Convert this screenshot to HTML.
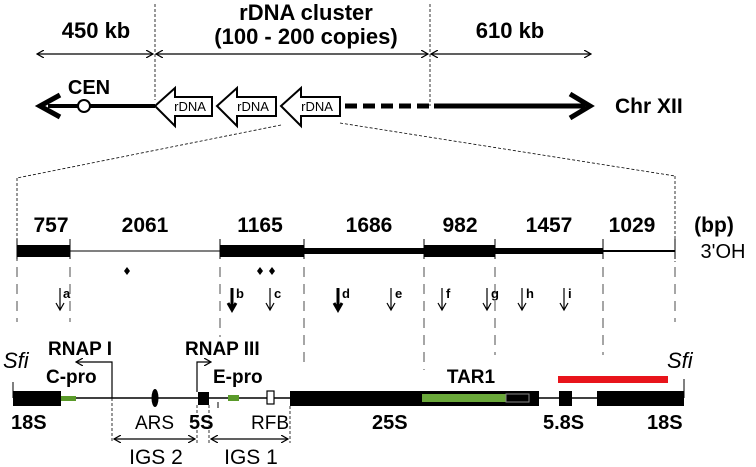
<!DOCTYPE html>
<html><head><meta charset="utf-8"><style>
html,body{margin:0;padding:0;background:#fff;}
svg{display:block;}
text{font-family:"Liberation Sans Narrow","Liberation Sans",sans-serif;}
.b{font-weight:bold;}
</style></head><body>
<svg width="756" height="467" viewBox="0 0 756 467" xmlns="http://www.w3.org/2000/svg">
<defs>
<marker id="ah" markerWidth="8" markerHeight="8" refX="7" refY="4" orient="auto" markerUnits="userSpaceOnUse"><path d="M0,0 L7,4 L0,8" fill="none" stroke="#000" stroke-width="1.2"/></marker>
<marker id="ahs" markerWidth="8" markerHeight="8" refX="7" refY="4" orient="auto-start-reverse" markerUnits="userSpaceOnUse"><path d="M0,0 L7,4 L0,8" fill="none" stroke="#000" stroke-width="1.2"/></marker>
</defs>
<!-- top labels -->
<text x="96" y="38" class="b" font-size="22" text-anchor="middle">450 kb</text>
<text x="306" y="20" class="b" font-size="22" text-anchor="middle">rDNA cluster</text>
<text x="306" y="44" class="b" font-size="22" text-anchor="middle">(100 - 200 copies)</text>
<text x="510" y="38" class="b" font-size="22" text-anchor="middle">610 kb</text>
<g stroke="#000" stroke-width="1.3" fill="none">
<line x1="37" y1="54" x2="153" y2="54" marker-start="url(#ahs)" marker-end="url(#ah)"/>
<line x1="156" y1="54" x2="428" y2="54" marker-start="url(#ahs)" marker-end="url(#ah)"/>
<line x1="431" y1="54" x2="591" y2="54" marker-start="url(#ahs)" marker-end="url(#ah)"/>
</g>
<g stroke="#000" stroke-width="0.8" stroke-dasharray="3,2" fill="none">
<line x1="155" y1="4" x2="155" y2="100"/>
<line x1="430" y1="4" x2="430" y2="106"/>
<line x1="281" y1="125" x2="17" y2="178"/>
<line x1="340" y1="123" x2="675" y2="176"/>
<line x1="17" y1="178" x2="17" y2="262"/>
<line x1="675" y1="176" x2="675" y2="262"/>
</g>
<!-- chromosome -->
<line x1="48" y1="106" x2="155" y2="106" stroke="#000" stroke-width="4"/>
<path d="M60,95 L40,106 L60,117" fill="none" stroke="#000" stroke-width="5"/>
<circle cx="84" cy="106" r="6" fill="#fff" stroke="#000" stroke-width="2"/>
<text x="89" y="94" class="b" font-size="20" text-anchor="middle">CEN</text>
<g stroke="#000" stroke-width="2" fill="#fff">
<path d="M155,106 L175,88 L175,97 L212,97 L212,116 L175,116 L175,126 Z"/>
<path d="M217,106 L237,88 L237,97 L276,97 L276,116 L237,116 L237,126 Z"/>
<path d="M281,106 L301,88 L301,97 L340,97 L340,116 L301,116 L301,126 Z"/>
</g>
<g font-size="13" text-anchor="middle" font-family="Liberation Sans Narrow,Liberation Sans,sans-serif">
<text x="190" y="111">rDNA</text><text x="253" y="111">rDNA</text><text x="317" y="111">rDNA</text>
</g>
<line x1="345" y1="106" x2="429" y2="106" stroke="#000" stroke-width="5" stroke-dasharray="12,6"/>
<line x1="434" y1="106" x2="585" y2="106" stroke="#000" stroke-width="5"/>
<path d="M570,94 L590,106 L570,118" fill="none" stroke="#000" stroke-width="5"/>
<text x="615" y="113" class="b" font-size="21">Chr  XII</text>
<!-- segment bar -->
<g class="b" font-size="21" text-anchor="middle">
<text x="51" y="232">757</text><text x="145" y="232">2061</text><text x="260" y="232">1165</text>
<text x="369" y="232">1686</text><text x="460" y="232">982</text><text x="549" y="232">1457</text>
<text x="632" y="232">1029</text><text x="714" y="232">(bp)</text>
</g>
<text x="723" y="258" font-size="20" text-anchor="middle">3'OH</text>
<rect x="17" y="245" width="53" height="12" fill="#000"/>
<line x1="70" y1="251" x2="220" y2="251" stroke="#000" stroke-width="1"/>
<rect x="220" y="245" width="84" height="12" fill="#000"/>
<rect x="304" y="248" width="120" height="6" fill="#000"/>
<rect x="424" y="245" width="71" height="12" fill="#000"/>
<rect x="495" y="248" width="108" height="6" fill="#000"/>
<line x1="603" y1="251" x2="675" y2="251" stroke="#000" stroke-width="2"/>
<g stroke="#000" stroke-width="1">
<line x1="17" y1="239" x2="17" y2="259"/><line x1="70" y1="239" x2="70" y2="259"/><line x1="220" y1="239" x2="220" y2="259"/><line x1="304" y1="239" x2="304" y2="259"/><line x1="424" y1="239" x2="424" y2="259"/><line x1="495" y1="239" x2="495" y2="259"/><line x1="603" y1="239" x2="603" y2="259"/><line x1="675" y1="239" x2="675" y2="259"/>
</g>
<g stroke="#888" stroke-width="1.5" stroke-dasharray="10,7">
<line x1="17" y1="267" x2="17" y2="322"/><line x1="70" y1="267" x2="70" y2="322"/>
<line x1="220" y1="267" x2="220" y2="337"/><line x1="304" y1="267" x2="304" y2="367"/>
<line x1="424" y1="267" x2="424" y2="370"/><line x1="495" y1="267" x2="495" y2="355"/>
<line x1="603" y1="267" x2="603" y2="355"/><line x1="675" y1="267" x2="675" y2="322"/>
</g>
<g fill="#000">
<path d="M127,267 L130,271 L127,275 L124,271Z"/><path d="M260,267 L263,271 L260,275 L257,271Z"/><path d="M272,267 L275,271 L272,275 L269,271Z"/>
</g>
<!-- arrows a-i -->
<g stroke="#000" fill="none" stroke-width="1.2">
<path d="M60,288 V310 M56,303 L60,310 L64,303"/>
<path d="M232,288 V310 M228,303 L232,310 L236,303" stroke-width="3"/>
<path d="M270,288 V310 M266,303 L270,310 L274,303"/>
<path d="M338,288 V310 M334,303 L338,310 L342,303" stroke-width="3"/>
<path d="M391,288 V310 M387,303 L391,310 L395,303"/>
<path d="M442,288 V310 M438,303 L442,310 L446,303"/>
<path d="M487,288 V310 M483,303 L487,310 L491,303"/>
<path d="M522,288 V310 M518,303 L522,310 L526,303"/>
<path d="M564,288 V310 M560,303 L564,310 L568,303"/>
</g>
<g class="b" font-size="13">
<text x="63" y="298">a</text><text x="236" y="298">b</text><text x="274" y="298">c</text><text x="342" y="298">d</text><text x="395" y="298">e</text><text x="446" y="298">f</text><text x="491" y="298">g</text><text x="526" y="298">h</text><text x="568" y="298">i</text>
</g>
<!-- bottom map -->
<text x="3" y="368" font-size="22" font-style="italic" font-family="Liberation Sans,sans-serif">Sfi</text>
<text x="667" y="368" font-size="22" font-style="italic" font-family="Liberation Sans,sans-serif">Sfi</text>
<text x="48" y="355" class="b" font-size="19">RNAP I</text>
<text x="185" y="355" class="b" font-size="19">RNAP III</text>
<text x="46" y="383" class="b" font-size="19">C-pro</text>
<text x="213" y="383" class="b" font-size="19">E-pro</text>
<text x="471" y="383" class="b" font-size="19" text-anchor="middle">TAR1</text>
<line x1="13" y1="382" x2="13" y2="398" stroke="#000" stroke-width="1"/>
<line x1="684" y1="379" x2="684" y2="398" stroke="#000" stroke-width="1"/>
<rect x="558" y="376" width="110" height="7" fill="#e8141b"/>
<line x1="61" y1="398" x2="290" y2="398" stroke="#000" stroke-width="1.5"/>
<line x1="539" y1="398" x2="597" y2="398" stroke="#000" stroke-width="1.5"/>
<rect x="13" y="391" width="48" height="15" fill="#000"/>
<rect x="61" y="396" width="15" height="5" fill="#5a9a2a"/>
<ellipse cx="155" cy="398" rx="3.5" ry="9" fill="#000"/>
<rect x="198" y="392" width="11" height="13" fill="#000"/>
<line x1="218" y1="402" x2="218" y2="408" stroke="#000" stroke-width="1"/>
<rect x="228" y="395" width="11" height="6" fill="#5a9a2a"/>
<rect x="267" y="391" width="7" height="13" fill="#fff" stroke="#000" stroke-width="1.2"/>
<rect x="290" y="391" width="249" height="15" fill="#000"/>
<rect x="422" y="394" width="84" height="8" fill="#6aa83a"/>
<rect x="506" y="394" width="23" height="8" fill="#000" stroke="#888" stroke-width="1"/>
<rect x="559" y="391" width="13" height="15" fill="#000"/>
<rect x="597" y="391" width="87" height="15" fill="#000"/>
<!-- promoter arrows -->
<path d="M112,398 V362 H76" fill="none" stroke="#000" stroke-width="1.2" marker-end="url(#ah)"/>
<path d="M197,392 V362 H211" fill="none" stroke="#000" stroke-width="1.2" marker-end="url(#ah)"/>
<g class="b" font-size="20">
<text x="11" y="429">18S</text><text x="189" y="429">5S</text><text x="372" y="429">25S</text><text x="543" y="429">5.8S</text><text x="647" y="429">18S</text>
</g>
<text x="135" y="429" font-size="19">ARS</text>
<text x="251" y="429" font-size="19">RFB</text>
<g stroke="#000" stroke-width="0.8" stroke-dasharray="3,2">
<line x1="112" y1="398" x2="112" y2="443"/><line x1="197" y1="405" x2="197" y2="443"/>
<line x1="209" y1="405" x2="209" y2="443"/><line x1="290" y1="406" x2="290" y2="443"/>
</g>
<g stroke="#000" stroke-width="1.3">
<line x1="114" y1="439" x2="195" y2="439" marker-start="url(#ahs)" marker-end="url(#ah)"/>
<line x1="211" y1="439" x2="288" y2="439" marker-start="url(#ahs)" marker-end="url(#ah)"/>
</g>
<text x="156" y="464" font-size="21" text-anchor="middle">IGS 2</text>
<text x="251" y="464" font-size="21" text-anchor="middle">IGS 1</text>
</svg>
</body></html>
